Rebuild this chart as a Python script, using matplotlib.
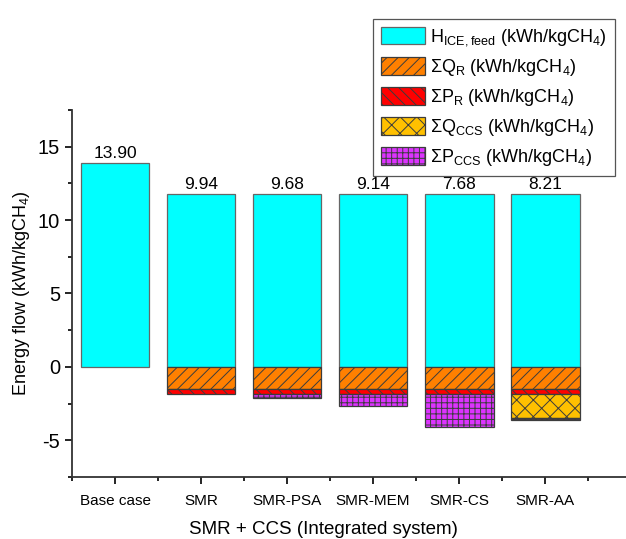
import numpy as np
import matplotlib.pyplot as plt

plt.rcParams['font.family'] = ['Liberation Sans', 'DejaVu Sans']
plt.rcParams['axes.unicode_minus'] = False
plt.rcParams['hatch.linewidth'] = 0.7

# Data (kWh/kgCH4)
cases = ["Base case", "SMR", "SMR-PSA", "SMR-MEM", "SMR-CS", "SMR-AA"]
h_feed = [13.90, 11.80, 11.80, 11.80, 11.80, 11.80]
q_r = [0.0, 1.50, 1.50, 1.50, 1.50, 1.50]
p_r = [0.0, 0.36, 0.36, 0.36, 0.36, 0.36]
q_ccs = [0.0, 0.0, 0.0, 0.0, 0.0, 1.63]
p_ccs = [0.0, 0.0, 0.26, 0.80, 2.26, 0.10]
net_labels = ["13.90", "9.94", "9.68", "9.14", "7.68", "8.21"]

x = np.arange(1, len(cases) + 1)
w = 0.8
ec = '#3c3c3c'

fig = plt.figure(figsize=(6.26, 5.39), dpi=100)
ax = fig.add_axes([0.115, 0.115, 0.885, 0.681])

ax.bar(x, h_feed, w, color='#00FFFF', edgecolor='#666666', linewidth=0.9,
       label=r'H$_{\mathregular{ICE,feed}}$ (kWh/kgCH$_{\mathregular{4}}$)')

# negative stack, going down from zero
neg_series = [
    (q_r, '#FF8000', '///', r'$\mathregular{\Sigma}$Q$_{\mathregular{R}}$ (kWh/kgCH$_{\mathregular{4}}$)'),
    (p_r, '#FF0000', '\\\\\\', r'$\mathregular{\Sigma}$P$_{\mathregular{R}}$ (kWh/kgCH$_{\mathregular{4}}$)'),
    (q_ccs, '#FFC000', 'xx', r'$\mathregular{\Sigma}$Q$_{\mathregular{CCS}}$ (kWh/kgCH$_{\mathregular{4}}$)'),
    (p_ccs, '#DD33FF', '+++', r'$\mathregular{\Sigma}$P$_{\mathregular{CCS}}$ (kWh/kgCH$_{\mathregular{4}}$)'),
]
bottom = np.zeros(len(cases))
for vals, col, hat, lab in neg_series:
    v = -np.array(vals)
    hv = np.where(v == 0, np.nan, v)  # skip empty segments
    ax.bar(x, hv, w, bottom=bottom, color=col, hatch=hat, edgecolor=ec,
           linewidth=0.9, label=lab)
    bottom = bottom + v

for xi, hi, lab in zip(x, h_feed, net_labels):
    ax.text(xi, hi + 0.1, lab, ha='center', va='bottom', fontsize=12.5)

ax.set_xlim(0.5, 6.94)
ax.set_ylim(-7.5, 17.5)
ax.set_yticks([-5, 0, 5, 10, 15])
ax.set_yticks(np.arange(-7.5, 20, 2.5), minor=True)
ax.set_xticks(x)
ax.set_xticklabels(cases, fontsize=11)
ax.set_xticks(np.arange(0.5, 7, 1), minor=True)
ax.tick_params(axis='y', labelsize=14.5, direction='out', length=5, width=1.2)
ax.tick_params(axis='x', direction='out', length=5, width=1.2, pad=7)
ax.tick_params(which='minor', direction='out', length=3, width=1.2)

for s in ['top', 'right']:
    ax.spines[s].set_visible(False)
for s in ['left', 'bottom']:
    ax.spines[s].set_linewidth(1.3)
    ax.spines[s].set_color('#333333')

ax.set_ylabel('Energy flow (kWh/kgCH$_{\mathregular{4}}$)', fontsize=13)
ax.set_xlabel('SMR + CCS (Integrated system)', fontsize=13.5)
ax.xaxis.set_label_coords(0.453, -0.12)

leg = fig.legend(loc='upper right', bbox_to_anchor=(0.997, 0.982), fontsize=13,
                 fancybox=False, edgecolor='#555555', framealpha=1,
                 handlelength=2.4, handleheight=1.1, borderpad=0.45,
                 labelspacing=0.5, handletextpad=0.3)
leg.get_frame().set_linewidth(0.9)

fig.savefig('out.png', dpi=100)
